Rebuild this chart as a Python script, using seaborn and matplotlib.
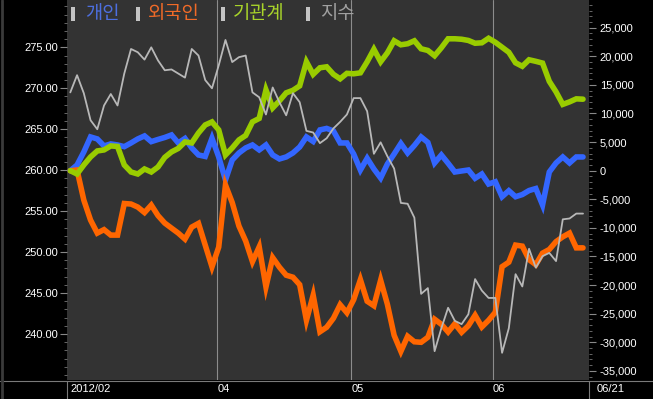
import numpy as np
import pandas as pd
import matplotlib
matplotlib.use('Agg')
import matplotlib.pyplot as plt
import seaborn as sns
from matplotlib.patches import Rectangle
from matplotlib.lines import Line2D
from matplotlib.ticker import MultipleLocator, FuncFormatter, FixedLocator

# ---------------- data ----------------
series_names = ['개인', '외국인', '기관계', '지수']
month_labels = ['2012/02', '04', '05', '06']
end_label = '06/21'
left_ticks = [240, 245, 250, 255, 260, 265, 270, 275]
right_ticks = [-35000, -30000, -25000, -20000, -15000, -10000, -5000, 0,
               5000, 10000, 15000, 20000, 25000]

individual = [0, 1000, 3270, 5900, 5550, 4330, 4680, 4500, 4200, 4850,
              5550, 6080, 5080, 5460, 5810, 6250, 4850, 5640, 3980, 2750,
              2490, 5670, 2400, -1630, 1870, 3100, 3980, 4500, 3630, 4500,
              2750, 2050, 2400, 3100, 4150, 5900, 5110, 7130, 7390, 6950,
              4850, 4850, 2920, 120, 2170, 300, -1280, 1170, 2920, 4760,
              3100, 4410, 5900, 4940, 1350, 2750, 1300, -230, -50, 120,
              -1330, -580, -2330, -1930, -4550, -3500, -4550, -4170, -3470, -3120,
              -6000, -230, 1350, 2400, 1350, 2400, 2400]

foreign = [0, 120, -5130, -8630, -10910, -10300, -11260, -11260, -5740, -5830,
           -6360, -7320, -6010, -7850, -9160, -10040, -10910, -11960, -9860, -9210,
           -13010, -16810, -13360, -2500, -5570, -9680, -12310, -15900, -13310, -20320,
           -15200, -16870, -18270, -18620, -19930, -26150, -21770, -28160, -27370, -25800,
           -23430, -24830, -22560, -19050, -22820, -23610, -19140, -23350, -28770, -31580,
           -28950, -29910, -30000, -29120, -25970, -26850, -28200, -26760, -28250, -27110,
           -25270, -27320, -26150, -24750, -16780, -15990, -13010, -13190, -15550, -16430,
           -14410, -13770, -12400, -11560, -10910, -13490, -13490]

institution = [0, -580, 1000, 2400, 3450, 3630, 4330, 4240, 1000, -230,
               -580, 300, -230, 650, 2330, 3280, 3890, 5030, 4850, 6600,
               8000, 8530, 7130, 2750, 3980, 5380, 6160, 8530, 9140, 14130,
               10980, 12210, 13610, 14050, 14830, 19040, 16850, 17990, 18160, 16850,
               16060, 17020, 16940, 17110, 19040, 21230, 19040, 20610, 22710, 22010,
               22190, 22710, 21310, 21020, 20090, 21490, 23060, 23060, 22980, 22770,
               22280, 22360, 23150, 22450, 21580, 20700, 18860, 18250, 19390, 19120,
               18810, 15620, 13780, 11590, 12030, 12560, 12500]

index_vals = [269.5, 271.6, 269.4, 266.1, 265.0, 267.9, 269.3, 267.9, 271.8, 274.8,
              274.4, 273.5, 275.0, 273.4, 272.2, 272.3, 271.8, 271.3, 274.8, 274.0,
              271.0, 270.0, 272.8, 275.9, 273.2, 273.8, 274.0, 269.5, 268.9, 266.8,
              270.1, 268.3, 266.7, 269.4, 268.3, 264.8, 264.6, 263.3, 263.9, 265.1,
              265.9, 266.8, 268.8, 268.8, 267.2, 262.0, 263.4, 261.7, 260.2, 256.0,
              255.9, 254.2, 244.9, 245.6, 237.9, 240.7, 243.2, 241.6, 241.2, 242.4,
              246.7, 245.3, 244.4, 244.4, 237.7, 240.7, 247.3, 245.8, 250.4, 248.1,
              249.5, 249.9, 248.9, 254.0, 254.1, 254.7, 254.7]

days = np.arange(len(index_vals))
df = pd.DataFrame({'day': days, '개인': individual, '외국인': foreign,
                   '기관계': institution, '지수': index_vals})

# ---------------- style ----------------
sns.set_theme(style='dark')
plt.rcParams['font.family'] = ['Liberation Sans', 'DejaVu Sans']
plt.rcParams['axes.unicode_minus'] = False

W, H = 653, 399
fig = plt.figure(figsize=(W / 100, H / 100), dpi=100, facecolor='black')

def fx(px):
    return px / W

def fy(py):
    return 1 - py / H

ax = fig.add_axes([fx(67), fy(380), fx(589.3) - fx(67), fy(0) - fy(380)])
ax.set_facecolor('#333333')
ax2 = ax.twinx()

line_colors = {'개인': '#3366ff', '외국인': '#ff6600', '기관계': '#99cc00', '지수': '#b8b8b8'}
text_colors = {'개인': '#4d6fe0', '외국인': '#f06a28', '기관계': '#a8d42a', '지수': '#a0a0a0'}

for name in ['개인', '외국인', '기관계']:
    sns.lineplot(data=df, x='day', y=name, ax=ax, color=line_colors[name],
                 linewidth=4.0, solid_joinstyle='miter')
sns.lineplot(data=df, x='day', y='지수', ax=ax2, color=line_colors['지수'], linewidth=1.3)

# month grid lines
grid_pos = [21.78, 41.63, 62.67]
for gp in grid_pos:
    ax.axvline(gp, color='#8c8c8c', linewidth=0.8, zorder=0.5)

ax.set_xlim(-0.49, 76.93)
ax.set_ylim(-36590, 29840)
ax2.set_ylim(234.38, 280.78)

for a in (ax, ax2):
    a.set_xlabel('')
    a.set_ylabel('')
    a.set_xticks([])
    for s in a.spines.values():
        s.set_visible(False)
    a.grid(False)

# right axis: flows
ax.yaxis.tick_right()
ax.yaxis.set_major_locator(FixedLocator(right_ticks))
ax.yaxis.set_minor_locator(MultipleLocator(1000))
ax.yaxis.set_major_formatter(FuncFormatter(lambda v, p: f'{int(round(v)):,}'))
ax.tick_params(axis='y', which='major', right=True, left=False, length=5, width=0.8,
               color='#888888', labelcolor='white', labelsize=8, pad=2.5)
ax.tick_params(axis='y', which='minor', right=True, left=False, length=2.5, width=0.6,
               color='#777777')

# left axis: index
ax2.yaxis.tick_left()
ax2.yaxis.set_major_locator(FixedLocator(left_ticks))
ax2.yaxis.set_minor_locator(MultipleLocator(1))
ax2.yaxis.set_major_formatter(FuncFormatter(lambda v, p: f'{v:.2f}'))
ax2.tick_params(axis='y', which='major', left=True, right=False, length=5, width=0.8,
                color='#888888', labelcolor='white', labelsize=8, pad=1.5)
ax2.tick_params(axis='y', which='minor', left=True, right=False, length=2.5, width=0.6,
                color='#777777')

# x labels
xlab_pos = [0] + grid_pos
trans = ax.get_xaxis_transform()
for pos, lab in zip(xlab_pos, month_labels):
    ax.text(pos, -9 / 380, lab, transform=trans, ha='left', va='center',
            color='white', fontsize=8, clip_on=False)
fig.text(fx(597), fy(389), end_label, ha='left', va='center', color='white', fontsize=8)

# frame lines
fig.add_artist(Line2D([0, 1], [fy(380.5), fy(380.5)], transform=fig.transFigure,
                      color='#7a7a7a', linewidth=0.8))
for px in (66.8, 589.3):
    fig.add_artist(Line2D([fx(px), fx(px)], [fy(380.5), 0], transform=fig.transFigure,
                          color='#7a7a7a', linewidth=0.8))
fig.add_artist(Line2D([fx(1.5), fx(1.5)], [0, 1], transform=fig.transFigure,
                      color='#3a3a3a', linewidth=2))

# legend
legend_x = {'개인': (71, 85), '외국인': (136, 148), '기관계': (221, 233), '지수': (306, 320)}
for name in series_names:
    bx, tx = legend_x[name]
    fig.add_artist(Rectangle((fx(bx), fy(21)), fx(4), 14 / H, transform=fig.transFigure,
                             facecolor='#c4c4c4', edgecolor='none'))
    fig.text(fx(tx), fy(14), name, ha='left', va='center', color=text_colors[name],
             fontsize=13.5, family=['Noto Sans CJK KR', 'DejaVu Sans'])

fig.savefig('out.png', dpi=100, facecolor='black')
